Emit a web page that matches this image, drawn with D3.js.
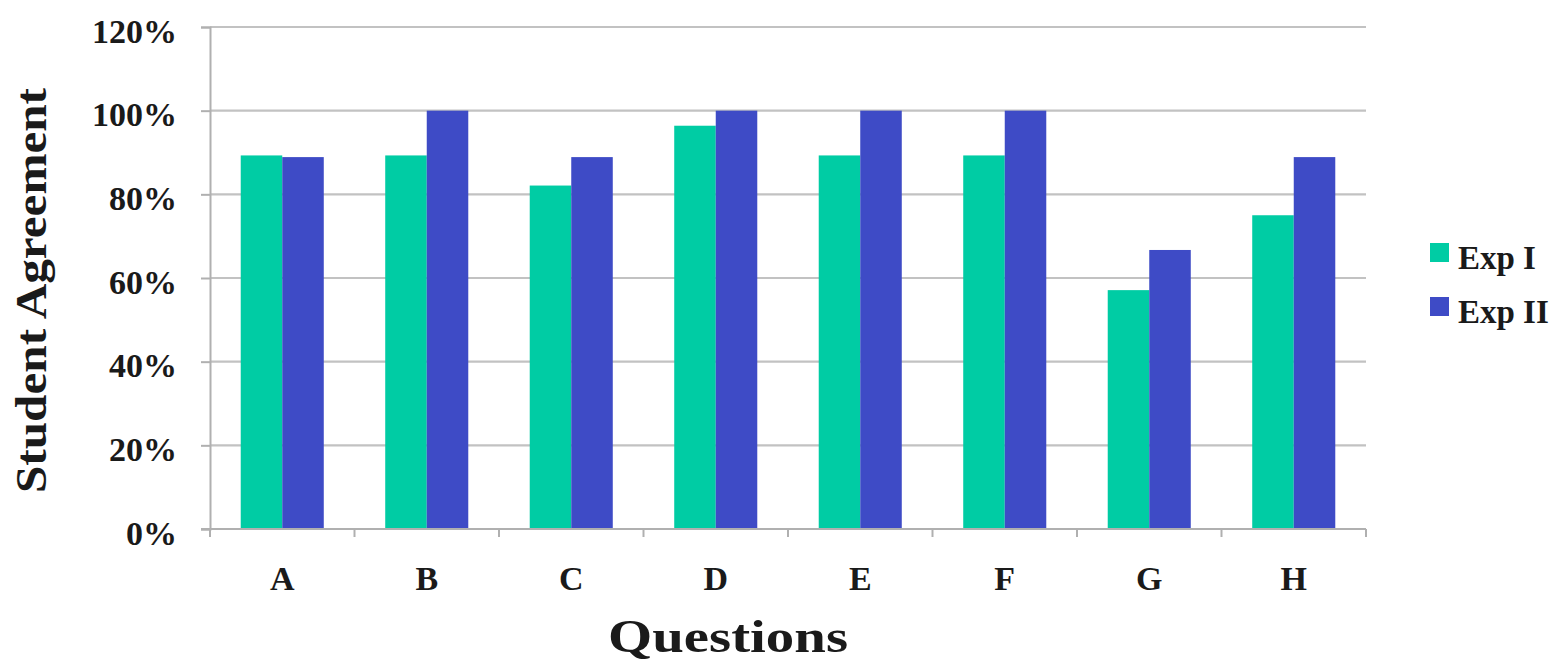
<!DOCTYPE html>
<html>
<head>
<meta charset="utf-8">
<script src="https://cdn.jsdelivr.net/npm/d3@7"></script>
<style>
  html, body { margin: 0; padding: 0; background: #fff; }
  svg { display: block; }
  text { font-family: "Liberation Serif", "Times New Roman", serif; font-weight: bold; fill: #1a1a1a; }
</style>
</head>
<body>
<svg id="chart" width="1563" height="665"></svg>
<script>
// Survey questions and share of students agreeing in each experiment
const categories = ["A", "B", "C", "D", "E", "F", "G", "H"];
const seriesNames = ["Exp I", "Exp II"];
const expI  = [0.893, 0.893, 0.821, 0.964, 0.893, 0.893, 0.571, 0.75];
const expII = [0.889, 1.0, 0.889, 1.0, 1.0, 1.0, 0.667, 0.889];
const yTicks = [0, 0.2, 0.4, 0.6, 0.8, 1.0, 1.2];
const colors = ["#00cca4", "#3e4bc6"];

const rows = categories.map((c, i) => ({ cat: c, values: [expI[i], expII[i]] }));

const svg = d3.select("#chart");
const plot = { left: 210, right: 1366, top: 27, bottom: 529 };

const x0 = d3.scaleBand().domain(categories).range([plot.left, plot.right]).paddingInner(0).paddingOuter(0);
const x1 = d3.scaleBand().domain(seriesNames).range([0, x0.bandwidth()]).paddingInner(0).paddingOuter(0.74);
const y = d3.scaleLinear().domain([0, 1.2]).range([plot.bottom, plot.top]);
const color = d3.scaleOrdinal().domain(seriesNames).range(colors);

// horizontal gridlines
svg.append("g")
  .selectAll("line")
  .data(yTicks.filter(t => t > 0))
  .join("line")
  .attr("x1", plot.left).attr("x2", plot.right)
  .attr("y1", d => y(d)).attr("y2", d => y(d))
  .attr("stroke", "#c2c2c2").attr("stroke-width", 2.2);

// bars
const groups = svg.append("g")
  .selectAll("g")
  .data(rows)
  .join("g")
  .attr("transform", d => `translate(${x0(d.cat)},0)`);

groups.selectAll("rect")
  .data(d => d.values.map((v, i) => ({ name: seriesNames[i], v })))
  .join("rect")
  .attr("x", d => x1(d.name))
  .attr("width", x1.bandwidth())
  .attr("y", d => y(d.v))
  .attr("height", d => y(0) - y(d.v))
  .attr("fill", d => color(d.name));

// y axis
const yAxis = svg.append("g")
  .attr("transform", `translate(${plot.left},0)`)
  .call(d3.axisLeft(y).tickValues(yTicks).tickFormat(d3.format(".0%")).tickSize(9).tickPadding(24));
yAxis.select(".domain").attr("stroke", "#b0b0b0").attr("stroke-width", 2);
yAxis.selectAll(".tick line").attr("stroke", "#b0b0b0").attr("stroke-width", 2);
yAxis.selectAll(".tick text")
  .attr("font-size", 34)
  .attr("dy", "0.45em")
  .style("font-family", "'Liberation Serif', serif").style("font-weight", "bold").attr("fill", "#1a1a1a");

// x axis: category labels with ticks between groups
const xAxis = svg.append("g")
  .attr("transform", `translate(0,${plot.bottom})`)
  .call(d3.axisBottom(x0).tickSize(0).tickPadding(37));
xAxis.select(".domain").remove();
xAxis.selectAll(".tick text")
  .attr("font-size", 34)
  .style("font-family", "'Liberation Serif', serif").style("font-weight", "bold").attr("fill", "#1a1a1a");

const bounds = categories.map(c => x0(c)).concat([plot.right]);
const xLine = svg.append("g").attr("transform", `translate(0,${plot.bottom})`);
xLine.append("line")
  .attr("x1", plot.left - 9).attr("x2", plot.right)
  .attr("y1", 0).attr("y2", 0)
  .attr("stroke", "#b0b0b0").attr("stroke-width", 2);
xLine.selectAll("line.tk")
  .data(bounds)
  .join("line").attr("class", "tk")
  .attr("x1", d => d).attr("x2", d => d)
  .attr("y1", 0).attr("y2", 8)
  .attr("stroke", "#b0b0b0").attr("stroke-width", 2);

// axis titles
svg.append("text")
  .attr("transform", `translate(46,${(88 + 493) / 2}) rotate(-90)`)
  .attr("text-anchor", "middle")
  .attr("font-size", 45)
  .attr("textLength", 405)
  .attr("lengthAdjust", "spacingAndGlyphs")
  .text("Student Agreement");

svg.append("text")
  .attr("x", 728).attr("y", 652)
  .attr("text-anchor", "middle")
  .attr("font-size", 46)
  .attr("textLength", 240)
  .attr("lengthAdjust", "spacingAndGlyphs")
  .text("Questions");

// legend
const legend = svg.append("g")
  .selectAll("g")
  .data(seriesNames)
  .join("g")
  .attr("transform", (d, i) => `translate(1430,${243 + i * 54})`);
legend.append("rect")
  .attr("width", 19).attr("height", 19)
  .attr("fill", d => color(d));
legend.append("text")
  .attr("x", 28).attr("y", 26)
  .attr("font-size", 33)
  .text(d => d);
</script>
</body>
</html>
